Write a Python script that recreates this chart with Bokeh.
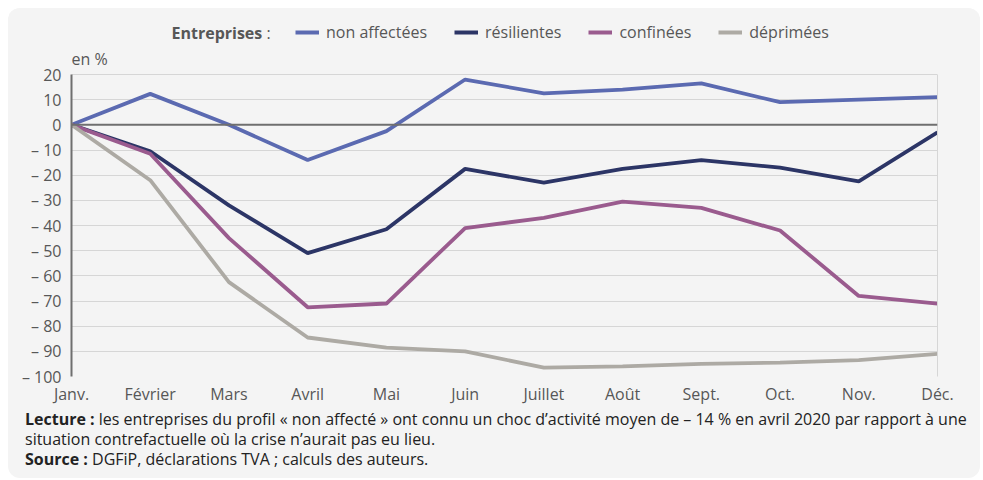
from bokeh.plotting import figure
from bokeh.models import Range1d, Span, Legend, LegendItem, FixedTicker, Label, Div, LinearAxis
from bokeh.layouts import column
from bokeh.embed import file_html
from bokeh.resources import INLINE

months = ["Janv.", "Février", "Mars", "Avril", "Mai", "Juin", "Juillet", "Août", "Sept.", "Oct.", "Nov.", "Déc."]
non_affectees = [0, 12.3, 0, -14, -2.5, 18, 12.5, 14, 16.5, 9, 10, 11]
resilientes = [0, -10.5, -32, -51, -41.5, -17.5, -23, -17.5, -14, -17, -22.5, -3]
confinees = [0, -11.5, -45, -72.5, -71, -41, -37, -30.5, -33, -42, -68, -71]
deprimees = [0, -22, -62.5, -84.5, -88.5, -90, -96.5, -96, -95, -94.5, -93.5, -91]
y_ticks = list(range(-100, 21, 10))
y_min, y_max = -100, 20

series = [
    ("non affectées", non_affectees, "#5b6ab1"),
    ("résilientes", resilientes, "#2c3566"),
    ("confinées", confinees, "#9a5b8e"),
    ("déprimées", deprimees, "#adaaa4"),
]

BG = "#f4f4f4"
FONT = "Open Sans"
TXT = "#575757"

# frame: data area 302px high for 120 units, plus 60px headroom for legend/unit label
px_per_unit = 302 / (y_max - y_min)
top_extra = 60 / px_per_unit

p = figure(width=972, height=405, output_backend="svg", toolbar_location=None,
           x_range=Range1d(0, 11), y_range=Range1d(y_min, y_max + top_extra),
           min_border_left=63, min_border_right=43, min_border_top=6, min_border_bottom=37,
           background_fill_color=BG, border_fill_color=BG, margin=0)
p.outline_line_color = None

xs = list(range(len(months)))
p.xaxis.ticker = FixedTicker(ticks=xs)
p.xaxis.major_label_overrides = {i: m for i, m in enumerate(months)}
p.yaxis.ticker = FixedTicker(ticks=y_ticks)
p.yaxis.major_label_overrides = {v: (str(v) if v >= 0 else "\u2013 " + str(-v)) for v in y_ticks}
p.yaxis.bounds = (y_min, y_max)

for ax in (p.xaxis[0], p.yaxis[0]):
    ax.major_label_text_font = FONT
    ax.major_label_text_font_size = "16px"
    ax.major_label_text_color = TXT
    ax.major_tick_line_color = None
    ax.minor_tick_line_color = None
p.xaxis.axis_line_color = None
p.xaxis.major_label_standoff = 0
p.yaxis.axis_line_color = "#6f6f6f"
p.yaxis.axis_line_width = 2
p.yaxis.major_label_standoff = 4

right_axis = LinearAxis(ticker=FixedTicker(ticks=[]), bounds=(y_min, y_max),
                        axis_line_color="#d6d6d6", axis_line_width=1,
                        major_tick_line_color=None, minor_tick_line_color=None,
                        major_label_text_font_size="0px")
p.add_layout(right_axis, "right")

p.xgrid.grid_line_color = None
p.ygrid.grid_line_color = "#d6d6d6"
p.ygrid.grid_line_width = 1

p.add_layout(Span(location=0, dimension="width", line_color="#6f6f6f", line_width=2))

items = []
for name, vals, col in series:
    r = p.line(xs, vals, line_color=col, line_width=3.8)
    items.append(LegendItem(label=name, renderers=[r]))

legend = Legend(items=items, orientation="horizontal", location=(224, 333),
                background_fill_alpha=0, border_line_color=None,
                label_text_font=FONT, label_text_font_size="16px", label_text_color=TXT,
                glyph_width=24, glyph_height=16, label_standoff=7, spacing=27,
                padding=0, margin=0)
p.add_layout(legend, "center")

p.add_layout(Label(x=100, y=344, x_units="screen", y_units="screen", text="Entreprises",
                   text_font=FONT, text_font_size="16px", text_font_style="bold",
                   text_color=TXT, text_baseline="middle"))
p.add_layout(Label(x=195, y=344, x_units="screen", y_units="screen", text=":",
                   text_font=FONT, text_font_size="16px", text_color=TXT, text_baseline="middle"))
p.add_layout(Label(x=0, y=318, x_units="screen", y_units="screen", text="en %",
                   text_font=FONT, text_font_size="16px", text_color=TXT, text_baseline="middle"))

footer = Div(text=("<b>Lecture :</b> les entreprises du profil « non affecté » ont connu un choc d’activité moyen de "
                   "\u2013 14 % en avril 2020 par rapport à une<br>situation contrefactuelle où la crise n’aurait pas eu lieu.<br>"
                   "<b>Source :</b> DGFiP, déclarations TVA ; calculs des auteurs."),
             width=972, height=69, margin=(-4, 0, 0, 0),
             styles={"font-family": "Open Sans", "font-size": "16px", "line-height": "20px",
                     "color": "#222222", "padding": "0 4px 0 17px", "box-sizing": "border-box",
                     "white-space": "nowrap"})

layout = column(p, footer, margin=(8, 0, 0, 8), spacing=0,
                styles={"background-color": BG, "border-radius": "12px", "overflow": "hidden"})

open("out.html", "w").write(file_html(layout, INLINE))
